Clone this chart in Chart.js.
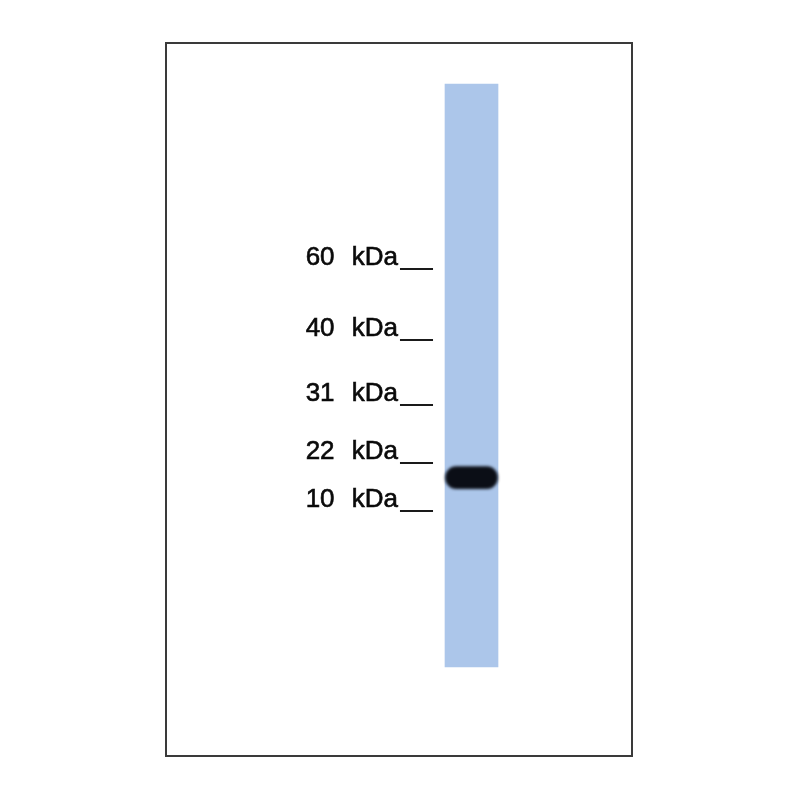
<!DOCTYPE html>
<html>
<head>
<meta charset="utf-8">
<script src="https://cdn.jsdelivr.net/npm/chart.js@4.4.0/dist/chart.umd.min.js"></script>
<style>
  html, body { margin: 0; padding: 0; background: #ffffff; }
  #wrap { width: 800px; height: 800px; }
</style>
</head>
<body>
<div id="wrap"><canvas id="c" width="800" height="800"></canvas></div>
<script>
// Marker ladder (label and migration distance, % of frame height from top)
const markerLabels = ['60 kDa', '40 kDa', '31 kDa', '22 kDa', '10 kDa'];
const markerMigration = [31.7, 41.65, 50.77, 58.91, 65.64];
// Sample lane (horizontal position, % of frame width) and its run range
const laneNames = ['Sample'];
const laneCenter = [65.56];
const laneRange = [[5.75, 87.52]];
// Detected band (migration range)
const bandRange = [[59.4, 62.5]];

const laneData = laneCenter.map((x, i) => ({ x: x, y: laneRange[i] }));
const bandData = laneCenter.map((x, i) => ({ x: x, y: bandRange[i] }));

const blotPlugin = {
  id: 'blot',
  beforeDatasetDraw(chart, args) {
    if (args.index === 1) {
      chart.ctx.save();
      chart.ctx.filter = 'blur(1.8px)';
    }
  },
  afterDatasetDraw(chart, args) {
    if (args.index === 1) {
      chart.ctx.restore();
    }
  },
  afterDraw(chart) {
    const ctx = chart.ctx;
    const a = chart.chartArea;
    const xs = chart.scales.x, ys = chart.scales.y;
    ctx.save();
    // frame
    ctx.strokeStyle = '#3a3a3a';
    ctx.lineWidth = 2;
    ctx.strokeRect(a.left, a.top, a.right - a.left, a.bottom - a.top);
    // marker labels
    ctx.fillStyle = '#0a0a0a';
    ctx.strokeStyle = '#0a0a0a';
    ctx.font = '26px "Liberation Sans", Arial, sans-serif';
    ctx.textAlign = 'right';
    ctx.textBaseline = 'alphabetic';
    try { ctx.wordSpacing = '10px'; } catch (e) {}
    const xText = xs.getPixelForValue(49.79);
    const x0 = xs.getPixelForValue(50.21);
    const x1 = xs.getPixelForValue(57.3);
    markerLabels.forEach((lab, i) => {
      const y = ys.getPixelForValue(markerMigration[i]);
      ctx.lineWidth = 0.6;
      ctx.fillText(lab, xText, y - 4);
      ctx.strokeText(lab, xText, y - 4);
      ctx.strokeStyle = '#1a1a1a';
      ctx.lineWidth = 2;
      ctx.beginPath();
      ctx.moveTo(x0, y);
      ctx.lineTo(x1, y);
      ctx.stroke();
      ctx.strokeStyle = '#0a0a0a';
    });
    ctx.restore();
  }
};

new Chart(document.getElementById('c'), {
  type: 'bar',
  data: {
    labels: laneNames,
    datasets: [
      {
        label: 'Lane',
        data: laneData,
        backgroundColor: '#acc6ea',
        borderWidth: 0,
        barThickness: 53,
        grouped: false,
        order: 2
      },
      {
        label: 'Band',
        data: bandData,
        backgroundColor: '#0b0e16',
        borderWidth: 0,
        borderRadius: 12,
        borderSkipped: false,
        barThickness: 52,
        grouped: false,
        order: 1
      }
    ]
  },
  options: {
    responsive: false,
    animation: false,
    devicePixelRatio: 1,
    layout: { padding: { left: 166, top: 43, right: 168, bottom: 44 } },
    plugins: { legend: { display: false }, tooltip: { enabled: false } },
    scales: {
      x: { type: 'linear', min: 0, max: 100, display: false, offset: false },
      y: { type: 'linear', min: 0, max: 100, reverse: true, display: false }
    }
  },
  plugins: [blotPlugin]
});
</script>
</body>
</html>
